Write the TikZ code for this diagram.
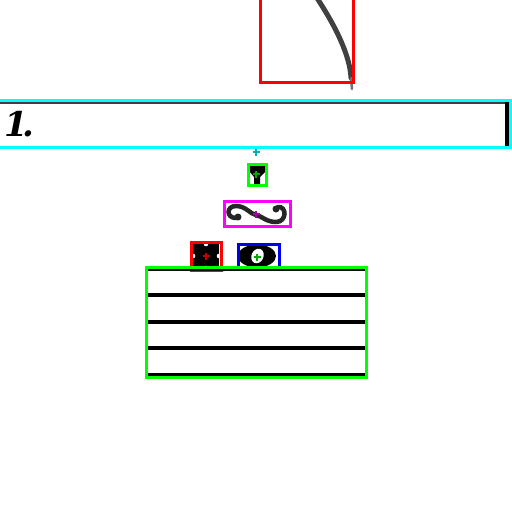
\documentclass[tikz,border=0pt]{standalone}
\usepackage{tikz}
\usepackage{fontspec}
\newfontfamily\voltafont{DejaVu Serif}
\definecolor{cyanb}{RGB}{0,255,255}
\definecolor{cyanx}{RGB}{0,180,190}
\definecolor{greenb}{RGB}{0,255,0}
\definecolor{greenx}{RGB}{0,170,0}
\definecolor{redb}{RGB}{255,0,0}
\definecolor{redx}{RGB}{200,0,0}
\definecolor{magb}{RGB}{255,0,255}
\definecolor{magx}{RGB}{170,0,170}
\definecolor{blueb}{RGB}{0,0,230}
\tikzset{
  bbox/.style={draw=#1, line width=3pt},
  staffline/.style={draw=black, line width=3.2pt},
  ink/.style={fill=black},
  xmark/.style={draw=#1, line width=2pt},
}
\newcommand{\xcross}[3]{\draw[xmark=#3] (#1-3.5,#2) -- (#1+3.5,#2); \draw[xmark=#3] (#1,#2-3.5) -- (#1,#2+3.5);}
\begin{document}
\begin{tikzpicture}[x=1pt,y=-1pt]
\useasboundingbox (0,0) rectangle (512,512);
\fill[white] (0,0) rectangle (512,512);
% slur at top
\draw[black!75, line width=5pt, line cap=round] (315,-5) .. controls (335,25) and (350,55) .. (351,78);
\draw[black!55, line width=2.5pt, line cap=round] (351,78) -- (352,89);
\draw[bbox=redb] (260,-3) rectangle (353,82);
% volta bracket
\draw[black!75, line width=2pt] (0,103) -- (507,103);
\draw[black, line width=4pt] (507,102) -- (507,146);
\node[anchor=base west, inner sep=0pt, font=\voltafont\fontsize{34}{34}\selectfont\bfseries\itshape] (volta) at (4,136.5) {1\kern-5pt.};
\draw[bbox=cyanb] (-3,100) rectangle (510,147);
\xcross{256}{152}{cyanx}
% small articulation
\fill[ink] (250,166) -- (265,166) -- (265,172) -- (260,177) -- (260,185) -- (254,185) -- (254,177) -- (250,172) -- cycle;
\draw[bbox=greenb] (248.5,164) rectangle (266.5,185.5);
\xcross{256}{174}{greenx}
% turn
\draw[black!85, line width=4.5pt, line cap=round] (236,218) .. controls (226,218) and (226,206) .. (236,206)
  .. controls (246,206) and (250,214) .. (256,215)
  .. controls (262,216) and (266,222) .. (276,222)
  .. controls (287,222) and (287,206) .. (278,207);
\fill[black!85] (238,217) circle (3.5);
\fill[black!85] (276,209) circle (3.5);
\draw[bbox=magb] (224,201) rectangle (290,226);
\xcross{256}{214}{magx}
% square notehead
\fill[ink] (193,244) rectangle (219,268);
\fill[white] (206,244) circle (2.3) (193,256) circle (2.3) (219,256) circle (2.3) (206,268) circle (2.3);
\draw[bbox=redb] (191,242) rectangle (221,270);
\xcross{206}{256}{redx}
% whole note
\fill[ink] (257,256) ellipse [x radius=19, y radius=11.5];
\fill[white, rotate around={-25:(257.5,256)}] (257.5,256) ellipse [x radius=6, y radius=7.5];
\draw[bbox=blueb] (238,244) rectangle (279,268);
\xcross{257}{257}{greenx}
% staff
\foreach \yy in {269,295,322,348,375} \draw[staffline] (147,\yy) -- (365,\yy);
\draw[bbox=greenb] (146.5,267) rectangle (366.5,377);
\end{tikzpicture}
\end{document}
